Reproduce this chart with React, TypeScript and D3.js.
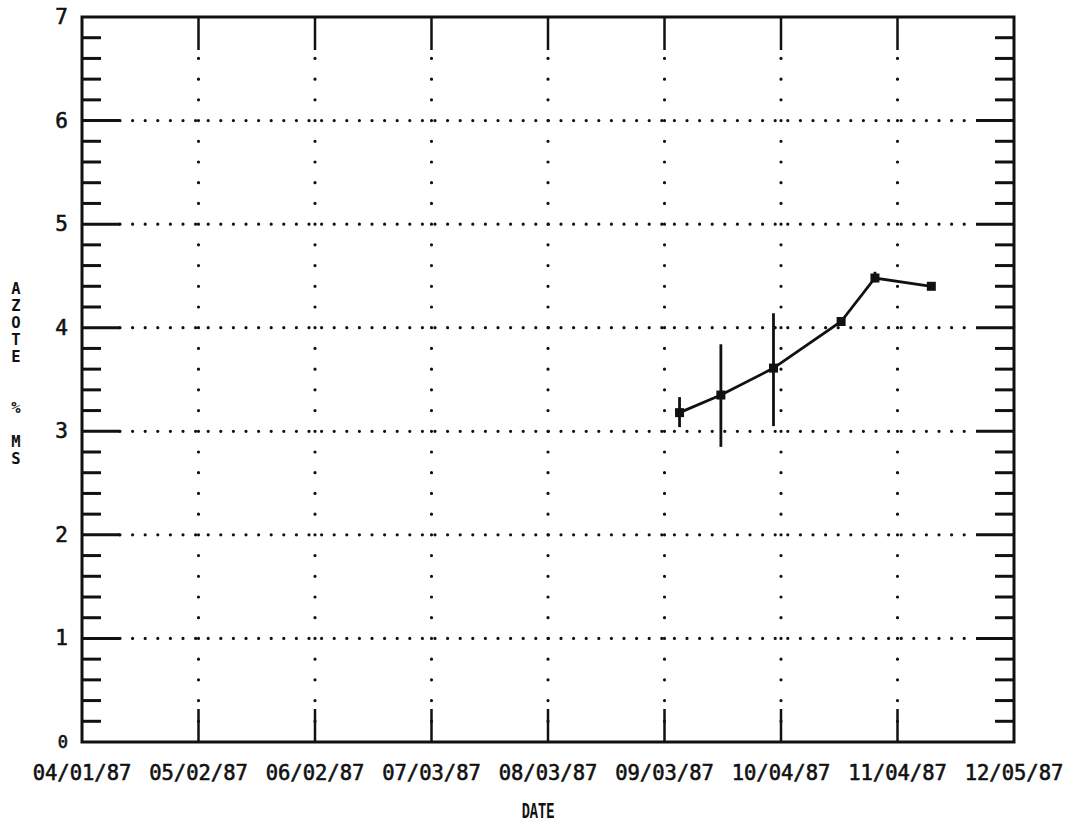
// @ts-nocheck
import * as d3 from "d3";
import { useRef, useEffect } from "react";

// sampling dates and nitrogen values (% dry matter)
const dates = ["1987-09-07", "1987-09-18", "1987-10-02", "1987-10-20", "1987-10-29", "1987-11-13"];
const azote = [3.18, 3.35, 3.61, 4.06, 4.48, 4.4];
const errLow = [3.04, 2.85, 3.05, 4.03, 4.44, 4.38];
const errHigh = [3.33, 3.84, 4.14, 4.09, 4.54, 4.42];

const xTickLabels = [
  "04/01/87", "05/02/87", "06/02/87", "07/03/87", "08/03/87",
  "09/03/87", "10/04/87", "11/04/87", "12/05/87",
];
const yTicks = [0, 1, 2, 3, 4, 5, 6, 7];
const yTitle = "AZOTE  % MS";
const xTitle = "DATE";

export default function App() {
  const ref = useRef();

  useEffect(() => {
    const width = 1071;
    const height = 830;
    const m = { left: 82, right: 1014, top: 17, bottom: 742 };
    const parse = d3.timeParse("%Y-%m-%d");
    const tickParse = d3.timeParse("%m/%d/%y");
    const tickDates = xTickLabels.map(tickParse);

    const svg = d3.select(ref.current).attr("width", width).attr("height", height);
    svg.selectAll("*").remove();

    const x = d3
      .scaleTime()
      .domain([tickDates[0], tickDates[tickDates.length - 1]])
      .range([m.left, m.right]);
    const y = d3.scaleLinear().domain([0, 7]).range([m.bottom, m.top]);

    const ink = "#111";
    const g = svg.append("g");

    // dotted grid
    g.selectAll(".hgrid")
      .data(yTicks.slice(1, -1))
      .enter()
      .append("line")
      .attr("x1", m.left + 38)
      .attr("x2", m.right - 38)
      .attr("y1", (d) => y(d))
      .attr("y2", (d) => y(d))
      .attr("stroke", ink)
      .attr("stroke-width", 3.2)
      .attr("stroke-linecap", "round")
      .attr("stroke-dasharray", "0 12.6");

    const dotStep = y(0) - y(0.2);
    g.selectAll(".vgrid")
      .data(tickDates.slice(1, -1))
      .enter()
      .append("line")
      .attr("x1", (d) => x(d))
      .attr("x2", (d) => x(d))
      .attr("y1", y(7) + dotStep * 2)
      .attr("y2", y(0) - dotStep)
      .attr("stroke", ink)
      .attr("stroke-width", 3.2)
      .attr("stroke-linecap", "round")
      .attr("stroke-dasharray", "0 " + dotStep);

    // frame
    g.append("rect")
      .attr("x", m.left)
      .attr("y", m.top)
      .attr("width", m.right - m.left)
      .attr("height", m.bottom - m.top)
      .attr("fill", "none")
      .attr("stroke", ink)
      .attr("stroke-width", 3);

    // y ticks, left and right
    const minor = d3.range(0, 7.001, 0.2).map((v) => +v.toFixed(1));
    minor.forEach((v) => {
      const major = Math.abs(v - Math.round(v)) < 1e-6;
      const len = major ? 38 : 19;
      if (v === 0 || v === 7) return;
      [
        [m.left, m.left + len],
        [m.right - len, m.right],
      ].forEach(([a, b]) => {
        g.append("line")
          .attr("x1", a)
          .attr("x2", b)
          .attr("y1", y(v))
          .attr("y2", y(v))
          .attr("stroke", ink)
          .attr("stroke-width", 3);
      });
    });

    // x ticks, top and bottom
    tickDates.slice(1, -1).forEach((d) => {
      [
        [m.top, m.top + 33],
        [m.bottom - 33, m.bottom],
      ].forEach(([a, b]) => {
        g.append("line")
          .attr("x1", x(d))
          .attr("x2", x(d))
          .attr("y1", a)
          .attr("y2", b)
          .attr("stroke", ink)
          .attr("stroke-width", 2.5);
      });
    });

    const monoFont = "'DejaVu Sans Mono', monospace";

    // x tick labels
    g.selectAll(".xl")
      .data(tickDates)
      .enter()
      .append("text")
      .attr("x", (d) => x(d))
      .attr("y", 780)
      .attr("text-anchor", "middle")
      .attr("font-family", monoFont)
      .attr("font-size", 20.5)
      .attr("fill", ink)
      .attr("stroke", ink)
      .attr("stroke-width", 0.6)
      .text((d, i) => xTickLabels[i]);

    // y tick labels
    g.selectAll(".yl")
      .data(yTicks)
      .enter()
      .append("text")
      .attr("x", 68)
      .attr("y", (d) => y(d) + 1)
      .attr("text-anchor", "end")
      .attr("dominant-baseline", "middle")
      .attr("font-family", monoFont)
      .attr("font-size", (d) => (d === 0 ? 17 : 21))
      .attr("fill", ink)
      .attr("stroke", ink)
      .attr("stroke-width", 0.6)
      .text((d) => d);

    // axis titles
    g.append("text")
      .attr("transform", "translate(538,818) scale(0.8,1.3)")
      .attr("text-anchor", "middle")
      .attr("font-family", "'Liberation Mono', monospace")
      .attr("font-weight", "bold")
      .attr("font-size", 17)
      .attr("fill", ink)
      .text(xTitle);

    // vertical stacked y title: one text element, one tspan per letter
    const yt = g
      .append("text")
      .attr("text-anchor", "middle")
      .attr("font-family", monoFont)
      .attr("font-weight", "bold")
      .attr("font-size", 15.5)
      .attr("fill", ink);
    yTitle.split("").forEach((c, i) => {
      if (c === " ") return;
      yt.append("tspan")
        .attr("x", 16)
        .attr("y", 294 + i * 17)
        .text(c);
    });

    // data
    const pts = dates.map((d, i) => ({
      date: parse(d),
      v: azote[i],
      lo: errLow[i],
      hi: errHigh[i],
    }));

    g.selectAll(".err")
      .data(pts)
      .enter()
      .append("line")
      .attr("x1", (d) => x(d.date))
      .attr("x2", (d) => x(d.date))
      .attr("y1", (d) => y(d.lo))
      .attr("y2", (d) => y(d.hi))
      .attr("stroke", ink)
      .attr("stroke-width", 2.8);

    const line = d3
      .line()
      .x((d) => x(d.date))
      .y((d) => y(d.v));

    g.append("path")
      .datum(pts)
      .attr("d", line)
      .attr("fill", "none")
      .attr("stroke", ink)
      .attr("stroke-width", 2.8);

    g.selectAll(".pt")
      .data(pts)
      .enter()
      .append("rect")
      .attr("x", (d) => x(d.date) - 4.5)
      .attr("y", (d) => y(d.v) - 4.5)
      .attr("width", 9)
      .attr("height", 9)
      .attr("fill", ink);
  }, []);

  return (
    <svg
      ref={ref}
      style={{ position: "absolute", left: 0, top: 0, background: "#fff" }}
    ></svg>
  );
}
